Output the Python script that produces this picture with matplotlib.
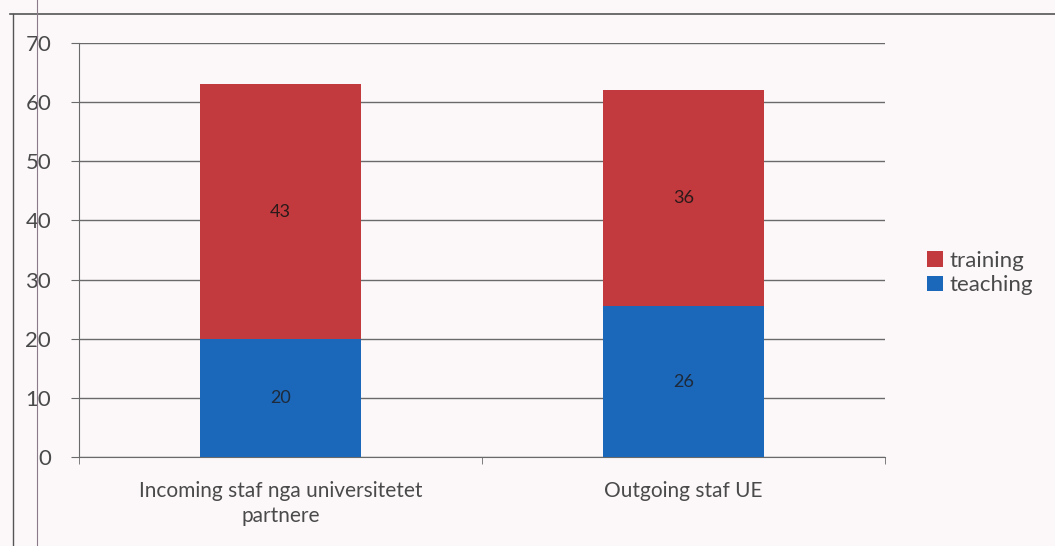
import matplotlib
matplotlib.use('Agg')
import matplotlib.pyplot as plt
from matplotlib.lines import Line2D
import numpy as np

# data
categories = ['Incoming staf nga universitetet\npartnere', 'Outgoing staf UE']
teaching = [20, 26]
training = [43, 36]
# drawn heights (the scanned chart shows slightly different stack heights)
teaching_h = [20, 25.5]
training_h = [43, 36.5]

BG = '#fcf8fa'
RED = '#c23a3e'
BLUE = '#1b67b9'
GRID = '#6a6a6a'
TXT = '#4a4a4a'

plt.rcParams['font.family'] = ['Lato', 'DejaVu Sans']

fig = plt.figure(figsize=(10.55, 5.46), dpi=100)
fig.patch.set_facecolor(BG)
ax = fig.add_axes([79/1055, 1 - 457/546, (885 - 79)/1055, (457 - 43)/546])
ax.set_facecolor(BG)

x = np.arange(len(categories))
w = 0.4
ax.bar(x, teaching_h, w, color=BLUE, label='teaching', zorder=3)
ax.bar(x, training_h, w, bottom=teaching_h, color=RED, label='training', zorder=3)

for i in range(len(categories)):
    ax.text(x[i], teaching_h[i] / 2, str(teaching[i]), ha='center', va='center',
            fontsize=13, color='#1e2a3a', zorder=4)
    ax.text(x[i], teaching_h[i] + training_h[i] / 2, str(training[i]),
            ha='center', va='center', fontsize=13, color='#2a1a1a', zorder=4)

ax.set_xlim(-0.5, 1.5)
ax.set_ylim(0, 70)
ax.set_yticks(range(0, 71, 10))
ax.yaxis.grid(True, color=GRID, linewidth=1.0, zorder=1)
ax.set_axisbelow(True)
ax.set_xticks(x)
ax.set_xticklabels(categories, fontsize=15, color=TXT, linespacing=1.35)
ax.tick_params(axis='x', length=0, pad=17)
ax.set_xticks([-0.5, 0.5, 1.5], minor=True)
ax.tick_params(axis='x', which='minor', length=5, color=GRID)
ax.tick_params(axis='y', length=6, color=GRID, labelsize=16, labelcolor=TXT, pad=14)
for s in ['top', 'right']:
    ax.spines[s].set_visible(False)
ax.spines['left'].set_color(GRID)
ax.spines['bottom'].set_color(GRID)

# legend: training above teaching
h, l = ax.get_legend_handles_labels()
leg = fig.legend(h[::-1], l[::-1], loc='center left', bbox_to_anchor=(0.86, 0.5),
                 frameon=False, fontsize=16, handlelength=0.7, handleheight=0.7,
                 handletextpad=0.3, labelspacing=0.2)
for t in leg.get_texts():
    t.set_color(TXT)

# scanned chart border lines
fig.add_artist(Line2D([10/1055, 1], [1 - 14/546] * 2, color='#555555', linewidth=1.2))
fig.add_artist(Line2D([13/1055] * 2, [0, 1 - 14/546], color='#555555', linewidth=1.0))
fig.add_artist(Line2D([37/1055] * 2, [0, 1], color='#8a7a8a', linewidth=0.8))

fig.savefig('out.png', dpi=100, facecolor=BG)
